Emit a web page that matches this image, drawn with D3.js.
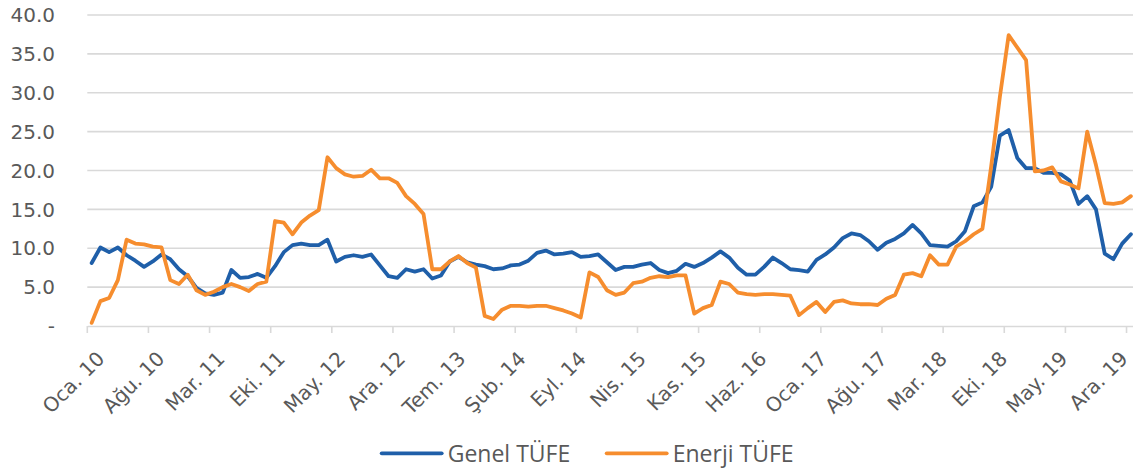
<!DOCTYPE html>
<html>
<head>
<meta charset="utf-8">
<script src="https://cdn.jsdelivr.net/npm/d3@7"></script>
<style>
  body { margin: 0; background: #fff; }
  svg { display: block; }
  .lbl { font-family: "DejaVu Sans", Verdana, sans-serif; font-size: 20px; fill: #595959; }
  .legend text { font-family: "Open Sans", "Segoe UI", sans-serif; font-size: 23px; fill: #595959; }
</style>
</head>
<body>
<svg id="chart"></svg>
<script>
// month abbreviations (Turkish) and years of the series
var months = ["Oca", "Şub", "Mar", "Nis", "May", "Haz", "Tem", "Ağu", "Eyl", "Eki", "Kas", "Ara"];
var years = ["10", "11", "12", "13", "14", "15", "16", "17", "18", "19"];

// yearly % change, Jan 2010 - Dec 2019
var genel = [
  8.1, 10.1, 9.5, 10.1, 9.1, 8.4, 7.6, 8.3, 9.2, 8.6, 7.3, 6.4,
  4.9, 4.2, 4.0, 4.3, 7.2, 6.2, 6.3, 6.7, 6.2, 7.7, 9.5, 10.4,
  10.6, 10.4, 10.4, 11.1, 8.3, 8.9, 9.1, 8.9, 9.2, 7.8, 6.4, 6.2,
  7.3, 7.0, 7.3, 6.1, 6.5, 8.3, 8.9, 8.2, 7.9, 7.7, 7.3, 7.4,
  7.8, 7.9, 8.4, 9.4, 9.7, 9.2, 9.3, 9.5, 8.9, 9.0, 9.2, 8.2,
  7.2, 7.6, 7.6, 7.9, 8.1, 7.2, 6.8, 7.1, 8.0, 7.6, 8.1, 8.8,
  9.6, 8.8, 7.5, 6.6, 6.6, 7.6, 8.8, 8.1, 7.3, 7.2, 7.0, 8.5,
  9.2, 10.1, 11.3, 11.9, 11.7, 10.9, 9.8, 10.7, 11.2, 11.9, 13.0, 11.9,
  10.4, 10.3, 10.2, 10.9, 12.2, 15.4, 15.9, 17.9, 24.5, 25.2, 21.6, 20.3,
  20.3, 19.7, 19.7, 19.5, 18.7, 15.7, 16.7, 15.0, 9.3, 8.6, 10.6, 11.8
];
var enerji = [
  0.4, 3.2, 3.6, 5.9, 11.1, 10.6, 10.5, 10.2, 10.1, 5.9, 5.4, 6.6,
  4.6, 4.0, 4.4, 5.0, 5.4, 5.0, 4.5, 5.4, 5.7, 13.5, 13.3, 11.8,
  13.3, 14.2, 14.9, 21.7, 20.3, 19.5, 19.2, 19.3, 20.1, 19.0, 19.0, 18.4,
  16.7, 15.7, 14.4, 7.3, 7.3, 8.3, 9.0, 8.1, 7.5, 1.3, 0.9, 2.1,
  2.6, 2.6, 2.5, 2.6, 2.6, 2.3, 2.0, 1.6, 1.1, 6.9, 6.3, 4.6,
  4.0, 4.3, 5.5, 5.7, 6.2, 6.4, 6.3, 6.5, 6.5, 1.6, 2.3, 2.7,
  5.7, 5.4, 4.3, 4.1, 4.0, 4.1, 4.1, 4.0, 3.9, 1.4, 2.3, 3.1,
  1.8, 3.1, 3.3, 2.9, 2.8, 2.8, 2.7, 3.5, 4.0, 6.6, 6.8, 6.4,
  9.1, 7.9, 7.9, 10.2, 10.9, 11.8, 12.5, 20.5, 29.5, 37.4, 35.8, 34.2,
  19.9, 20.0, 20.4, 18.6, 18.2, 17.7, 25.0, 20.7, 15.8, 15.7, 15.9, 16.7
];
var yTicks = [0, 5, 10, 15, 20, 25, 30, 35, 40];
var labelStep = 7;

var categories = [];
years.forEach(function (y) {
  months.forEach(function (m) { categories.push(m + ". " + y); });
});

var W = 1133, H = 470;
var left = 87.3, step = 8.733;
var svg = d3.select("#chart").attr("width", W).attr("height", H);

var x = d3.scaleBand()
  .domain(categories)
  .range([left, left + categories.length * step])
  .padding(0);
var y = d3.scaleLinear().domain([0, 40]).range([326, 15]);
var cx = function (i) { return x(categories[i]) + x.bandwidth() / 2; };

// gridlines
svg.append("g").selectAll("line")
  .data(yTicks.filter(function (d) { return d > 0; }))
  .enter().append("line")
  .attr("x1", left).attr("x2", W)
  .attr("y1", function (d) { return y(d); })
  .attr("y2", function (d) { return y(d); })
  .attr("stroke", "#d9d9d9").attr("stroke-width", 1.6);

// y labels
svg.append("g").selectAll("text")
  .data(yTicks)
  .enter().append("text")
  .attr("class", "lbl")
  .attr("x", 55)
  .attr("y", function (d) { return y(d); })
  .attr("dy", "0.36em")
  .attr("text-anchor", "end")
  .text(function (d) { return d === 0 ? "-" : d.toFixed(1); });

// x axis with ticks every 7 months
var tickCats = categories.filter(function (d, i) { return i % labelStep === 0; });
var xAxis = svg.append("g")
  .attr("transform", "translate(0," + y(0) + ")")
  .call(d3.axisBottom(x).tickValues(tickCats).tickSizeInner(7).tickSizeOuter(0).tickFormat(""));
xAxis.select(".domain").attr("stroke", "#d9d9d9").attr("stroke-width", 1.6);
xAxis.selectAll(".tick line")
  .attr("stroke", "#d9d9d9").attr("stroke-width", 1.6)
  .attr("transform", "translate(" + (-x.bandwidth() / 2) + ",0)");

// rotated labels are spread a little tighter than the ticks
var n = categories.length;
var labelX = d3.scaleLinear().domain([0, n - 1]).range([cx(0) + 14, cx(n - 1) - 2]);
svg.append("g").selectAll("text")
  .data(tickCats)
  .enter().append("text")
  .attr("class", "lbl")
  .attr("text-anchor", "end")
  .attr("transform", function (d) {
    var i = categories.indexOf(d);
    return "translate(" + labelX(i) + "," + (y(0) + 34) + ") rotate(-45)";
  })
  .text(function (d) { return d; });

// series lines
var line = d3.line()
  .x(function (d, i) { return cx(i); })
  .y(function (d) { return y(d); });

var series = [
  { name: "Genel TÜFE", values: genel, color: "#1f5fa9" },
  { name: "Enerji TÜFE", values: enerji, color: "#f68d2e" }
];

svg.append("g").selectAll("path")
  .data(series)
  .enter().append("path")
  .attr("d", function (s) { return line(s.values); })
  .attr("fill", "none")
  .attr("stroke", function (s) { return s.color; })
  .attr("stroke-width", 3.8)
  .attr("stroke-linejoin", "round")
  .attr("stroke-linecap", "round");

// legend
var legendX = [381.7, 606.7];
var lg = svg.append("g").attr("class", "legend").selectAll("g")
  .data(series)
  .enter().append("g")
  .attr("transform", function (d, i) { return "translate(" + legendX[i] + ",453.3)"; });
lg.append("line")
  .attr("x1", 0).attr("x2", 60)
  .attr("stroke", function (d) { return d.color; })
  .attr("stroke-width", 3.8)
  .attr("stroke-linecap", "round");
lg.append("text")
  .attr("x", 66).attr("y", 8.3)
  .text(function (d) { return d.name; });
</script>
</body>
</html>
